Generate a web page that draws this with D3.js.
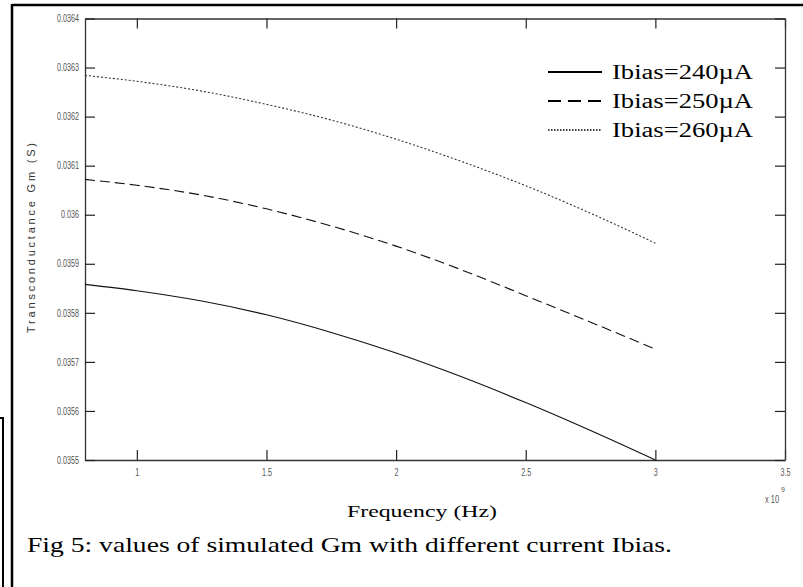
<!DOCTYPE html>
<html>
<head>
<meta charset="utf-8">
<script src="https://cdn.jsdelivr.net/npm/d3@7"></script>
<style>
  body { margin: 0; background: #fff; }
  svg { display: block; }
</style>
</head>
<body>
<div id="chart"></div>
<script>
// frequency points (Hz) and simulated Gm (S) for each bias current
const freqs = [0.8e9, 1.0e9, 1.25e9, 1.5e9, 1.75e9, 2.0e9, 2.25e9, 2.5e9, 2.75e9, 3.0e9];
const gm240 = [0.035858, 0.035845, 0.035824, 0.035796, 0.035760, 0.035718, 0.035670, 0.035617, 0.035560, 0.035500];
const gm250 = [0.036072, 0.036060, 0.036040, 0.036012, 0.035977, 0.035936, 0.035888, 0.035835, 0.035781, 0.035726];
const gm260 = [0.036284, 0.036272, 0.036252, 0.036225, 0.036193, 0.036154, 0.036109, 0.036059, 0.036003, 0.035942];

const seriesNames = ["Ibias=240\u00b5A", "Ibias=250\u00b5A", "Ibias=260\u00b5A"];
const xTicks = [1e9, 1.5e9, 2e9, 2.5e9, 3e9, 3.5e9];
const yTicks = [0.0355, 0.0356, 0.0357, 0.0358, 0.0359, 0.036, 0.0361, 0.0362, 0.0363, 0.0364];

const width = 803, height = 587;
const plot = {left: 85, right: 785, top: 18.5, bottom: 460};

const svg = d3.select("#chart").append("svg")
    .attr("width", width)
    .attr("height", height);

svg.append("rect").attr("width", width).attr("height", height).attr("fill", "#fff");

// page frame lines around the figure
svg.append("line").attr("x1", 12).attr("y1", 5).attr("x2", width).attr("y2", 5)
    .attr("stroke", "#000").attr("stroke-width", 2.5);
svg.append("line").attr("x1", 12).attr("y1", 4).attr("x2", 12).attr("y2", height)
    .attr("stroke", "#000").attr("stroke-width", 2.5);
svg.append("path").attr("d", "M0,418H3V587")
    .attr("fill", "none").attr("stroke", "#000").attr("stroke-width", 2);

const x = d3.scaleLinear().domain([0.8e9, 3.5e9]).range([plot.left, plot.right]);
const y = d3.scaleLinear().domain([0.0355, 0.0364]).range([plot.bottom, plot.top]);

const tickFont = "'Liberation Sans', Arial, sans-serif";

// squeeze tick labels horizontally, like the narrow font of the original
function squeeze(sel) {
    sel.each(function() {
        const len = this.getComputedTextLength();
        if (len > 0) {
            d3.select(this).attr("textLength", len * 0.72).attr("lengthAdjust", "spacingAndGlyphs");
        }
    });
}

function styleAxis(g) {
    g.select(".domain").attr("stroke", "#333").attr("stroke-width", 1.3);
    g.selectAll(".tick line").attr("stroke", "#222").attr("stroke-width", 1.2);
    g.selectAll(".tick text").attr("fill", "#555")
        .style("font-family", tickFont).style("font-size", "10px")
        .call(squeeze);
}

// bottom axis, ticks pointing inward
svg.append("g")
    .attr("transform", `translate(0,${plot.bottom})`)
    .call(d3.axisBottom(x).tickValues(xTicks).tickSizeInner(-10).tickSizeOuter(0)
        .tickPadding(9).tickFormat(d => +(d / 1e9).toFixed(1)))
    .call(styleAxis);

// top axis (no labels)
svg.append("g")
    .attr("transform", `translate(0,${plot.top})`)
    .call(d3.axisTop(x).tickValues(xTicks).tickSizeInner(-10).tickSizeOuter(0).tickFormat(""))
    .call(styleAxis);

// left axis
svg.append("g")
    .attr("transform", `translate(${plot.left},0)`)
    .call(d3.axisLeft(y).tickValues(yTicks).tickSizeInner(-10).tickSizeOuter(0)
        .tickPadding(6).tickFormat(d => String(+d.toFixed(4))))
    .call(styleAxis);

// right axis (no labels)
svg.append("g")
    .attr("transform", `translate(${plot.right},0)`)
    .call(d3.axisRight(y).tickValues(yTicks).tickSizeInner(-10).tickSizeOuter(0).tickFormat(""))
    .call(styleAxis);

// exponent marker
svg.append("text")
    .attr("x", 765).attr("y", 503)
    .attr("fill", "#555")
    .style("font-family", tickFont).style("font-size", "10px")
    .attr("textLength", 14).attr("lengthAdjust", "spacingAndGlyphs")
    .text("x 10");
svg.append("text")
    .attr("x", 781).attr("y", 492)
    .attr("fill", "#555")
    .style("font-family", tickFont).style("font-size", "7px")
    .text("9");

// curves
const line = d3.line()
    .x(d => x(d[0]))
    .y(d => y(d[1]))
    .curve(d3.curveMonotoneX);

const curves = [
    {values: gm240, dash: null, color: "#111"},
    {values: gm250, dash: "10,5", color: "#111"},
    {values: gm260, dash: "2,2", color: "#333"}
];

svg.selectAll("path.curve")
    .data(curves)
    .enter()
    .append("path")
    .attr("class", "curve")
    .attr("d", c => line(freqs.map((f, i) => [f, c.values[i]])))
    .attr("fill", "none")
    .attr("stroke", c => c.color)
    .attr("stroke-width", 1.1)
    .attr("stroke-dasharray", c => c.dash);

// legend
const legendDash = [null, "13,7", "1.5,1.5"];
const legend = svg.selectAll("g.legend")
    .data(seriesNames)
    .enter()
    .append("g")
    .attr("class", "legend")
    .attr("transform", (d, i) => `translate(548,${72 + i * 29})`);

legend.append("line")
    .attr("x1", 0).attr("x2", 54).attr("y1", 0).attr("y2", 0)
    .attr("stroke", "#000")
    .attr("stroke-width", (d, i) => i === 2 ? 1.6 : 2)
    .attr("stroke-dasharray", (d, i) => legendDash[i]);

legend.append("text")
    .attr("x", 64).attr("y", 6.5)
    .attr("textLength", 141)
    .attr("lengthAdjust", "spacingAndGlyphs")
    .style("font-family", "'Liberation Serif', 'DejaVu Serif', serif")
    .style("font-size", "20px")
    .attr("fill", "#000")
    .text(d => d);

// axis titles
svg.append("text")
    .attr("transform", "translate(35,238) rotate(-90)")
    .attr("text-anchor", "middle")
    .attr("textLength", 190)
    .attr("lengthAdjust", "spacing")
    .attr("fill", "#333")
    .style("font-family", "'Liberation Sans', Arial, sans-serif")
    .style("font-size", "11px")
    .text("Transconductance Gm (S)");

svg.append("text")
    .attr("x", 347).attr("y", 517)
    .attr("textLength", 150)
    .attr("lengthAdjust", "spacingAndGlyphs")
    .style("font-family", "'Liberation Serif', 'DejaVu Serif', serif")
    .style("font-size", "17px")
    .attr("fill", "#000")
    .text("Frequency (Hz)");

// caption
svg.append("text")
    .attr("x", 27).attr("y", 552)
    .attr("textLength", 645)
    .attr("lengthAdjust", "spacingAndGlyphs")
    .style("font-family", "'Liberation Serif', 'DejaVu Serif', serif")
    .style("font-size", "21px")
    .attr("fill", "#000")
    .text("Fig 5: values of simulated Gm with different current Ibias.");
</script>
</body>
</html>
